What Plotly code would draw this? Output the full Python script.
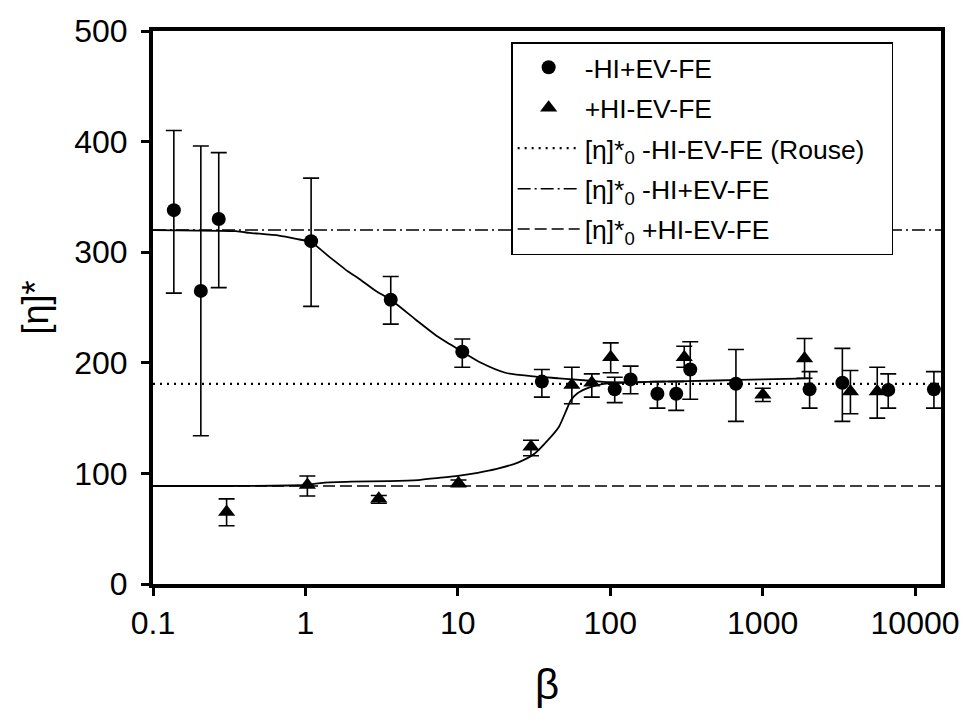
import plotly.graph_objects as go

# ---- data ----
# -HI+EV-FE (circles)
beta_c = [0.137, 0.206, 0.27, 1.09, 3.63, 10.7, 35.6, 107, 136, 204, 271, 335, 668, 2033, 3335, 6670, 13300]
eta_c = [338, 265, 330, 310, 257, 210, 183, 176, 185, 172, 172, 194, 181, 176, 182, 175.5, 176]
eta_c_hi = [410, 396, 390, 367, 278, 221.5, 194, 187, 197, 183, 183, 219, 212, 192, 213, 190, 192]
eta_c_lo = [263, 134, 268, 251, 235, 196, 169, 164, 172, 159, 157, 167, 147, 159, 147, 159, 159]

# +HI-EV-FE (triangles)
beta_t = [0.304, 1.03, 3.03, 10.1, 30.2, 56, 75.7, 100.7, 306, 1003, 1884, 3767, 5650]
eta_t = [65, 89.5, 77, 91, 124, 180, 182, 205, 205, 171, 204, 174, 174]
eta_t_hi = [77, 97.6, 80, 94, 130, 196, 190, 218, 215, 177, 222, 193, 196]
eta_t_lo = [52.7, 79.6, 73, 88, 116, 163, 169, 191, 196, 165, 186, 154, 150]

# fitted curves
beta_fu = [0.1, 0.35, 0.43, 0.67, 0.87, 1.09, 1.43, 1.93, 2.2, 2.9, 3.63, 5.3, 7.5, 10.7,
           14.2, 20.5, 30, 46, 70, 100, 150, 200, 500, 1000, 2000]
eta_fu = [320, 319, 317.5, 315, 312, 309, 296, 282, 277, 265, 257, 239, 223, 210,
          200, 191, 188, 186, 184, 182.5, 182.5, 183, 184, 185, 186]
beta_fl = [0.1, 1.0, 1.3, 2.0, 3.5, 5.5, 7.5, 10, 13.5, 18, 25, 32, 39, 46, 51.5, 55, 61, 74, 91, 120, 170]
eta_fl = [88.6, 89.5, 91.5, 92.5, 93, 94, 96, 97.8, 100.5, 104, 110, 118, 130, 142, 157, 166, 172.5, 178, 181, 182, 182.5]

# reference levels [eta]*_0
ref_beta = [0.1, 14800]
eta0_rouse = 181
eta0_ev = 320
eta0_hi = 88.6

x_tickvals = [0.1, 1, 10, 100, 1000, 10000]
x_ticktext = ["0.1", "1", "10", "100", "1000", "10000"]
y_tickvals = [0, 100, 200, 300, 400, 500]

FONT = "Liberation Sans, Arial, sans-serif"
NB = "\u00a0"

fig = go.Figure()

fig.add_trace(go.Scatter(x=ref_beta, y=[eta0_rouse] * 2, mode="lines",
                         line=dict(color="black", width=2.2, dash="2px,5px"),
                         name="[η]*<sub>0</sub> -HI-EV-FE (Rouse)" + NB * 3, legendrank=3,
                         legendgroup="g3"))
fig.add_trace(go.Scatter(x=ref_beta, y=[eta0_ev] * 2, mode="lines",
                         line=dict(color="black", width=1.5, dash="13px,4px,2px,4px"),
                         name="[η]*<sub>0</sub> -HI+EV-FE", legendrank=4, legendgroup="g4"))
fig.add_trace(go.Scatter(x=ref_beta, y=[eta0_hi] * 2, mode="lines",
                         line=dict(color="black", width=1.5, dash="12px,5px"),
                         name="[η]*<sub>0</sub> +HI-EV-FE", legendrank=5, legendgroup="g5"))

fig.add_trace(go.Scatter(x=beta_fu, y=eta_fu, mode="lines",
                         line=dict(color="black", width=1.8, shape="spline", smoothing=0.6),
                         showlegend=False, hoverinfo="skip"))
fig.add_trace(go.Scatter(x=beta_fl, y=eta_fl, mode="lines",
                         line=dict(color="black", width=1.8, shape="spline", smoothing=0.6),
                         showlegend=False, hoverinfo="skip"))

fig.add_trace(go.Scatter(
    x=beta_c, y=eta_c, mode="markers", name="-HI+EV-FE", legendrank=1, legendgroup="g1",
    marker=dict(symbol="circle", size=14, color="black"),
    error_y=dict(type="data", symmetric=False,
                 array=[h - v for h, v in zip(eta_c_hi, eta_c)],
                 arrayminus=[v - l for v, l in zip(eta_c, eta_c_lo)],
                 color="black", thickness=1.6, width=8)))
fig.add_trace(go.Scatter(
    x=beta_t, y=eta_t, mode="markers", name="+HI-EV-FE", legendrank=2, legendgroup="g2",
    marker=dict(symbol="triangle-up", size=15, color="black"),
    error_y=dict(type="data", symmetric=False,
                 array=[h - v for h, v in zip(eta_t_hi, eta_t)],
                 arrayminus=[v - l for v, l in zip(eta_t, eta_t_lo)],
                 color="black", thickness=1.6, width=8)))

fig.update_layout(
    width=971, height=728,
    margin=dict(l=153, r=26, t=31, b=144),
    paper_bgcolor="white", plot_bgcolor="white",
    font=dict(family=FONT, color="black"),
    showlegend=True,
    legend=dict(x=0.4545, y=0.98, xanchor="left", yanchor="top",
                bgcolor="white", bordercolor="black", borderwidth=1.5,
                font=dict(size=26.5, family=FONT), tracegroupgap=3, itemwidth=62,
                traceorder="grouped"),
)
fig.update_xaxes(type="log", range=[-1, 4.1703], tickvals=x_tickvals, ticktext=x_ticktext,
                 showline=True, linecolor="black", linewidth=4, mirror=True,
                 ticks="outside", ticklen=8, tickwidth=3, tickcolor="black",
                 tickfont=dict(size=32), showgrid=False, zeroline=False,
                 title=dict(text="β", font=dict(size=42), standoff=30))
fig.update_yaxes(range=[0, 500], tickvals=y_tickvals,
                 showline=True, linecolor="black", linewidth=4, mirror=True,
                 ticks="outside", ticklen=8, tickwidth=3, tickcolor="black",
                 tickfont=dict(size=32), ticklabelstandoff=7, showgrid=False, zeroline=False,
                 title=dict(text="[η]*", font=dict(size=36), standoff=16))

fig.write_html("out.html")
